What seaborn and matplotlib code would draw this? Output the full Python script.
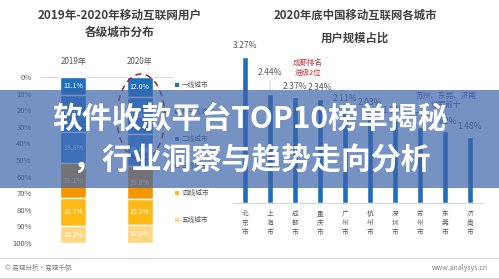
import matplotlib
matplotlib.use("Agg")
import matplotlib.pyplot as plt
import seaborn as sns
import pandas as pd
import numpy as np
from matplotlib.patches import Rectangle, Ellipse
from matplotlib.lines import Line2D

# ---------------- data ----------------
years = ["2019年", "2020年"]
tiers = ["一线城市", "新一线城市", "二线城市", "三线城市", "四线城市", "五线城市"]
share_2019 = [11.1, 22.1, 18.8, 21.1, 16.7, 10.2]
share_2020 = [12.0, 22.4, 19.4, 19.8, 15.5, 10.9]
tier_colors = ["#1F6FBF", "#2D7DCB", "#3F8AD6", "#F59600", "#FFB914", "#FFD782"]
pct_ticks = [0, 10, 20, 30, 40, 50, 60, 70, 80, 90, 100]

cities = ["北京市", "上海市", "成都市", "重庆市", "广州市", "杭州市", "深圳市", "苏州市", "东莞市", "济南市"]
city_share = [3.27, 2.44, 2.37, 2.34, 2.11, 2.03, 1.84, 1.71, 1.62, 1.48]

title_left = "2019年-2020年移动互联网用户\n各级城市分布"
title_right_1 = "2020年底中国移动互联网各城市"
title_right_2 = "用户规模占比"
note_chengdu = "成都排名\n进级2位"
note_new = "苏州、东莞、济南\n进军前十"
banner_1 = "软件收款平台TOP10榜单揭秘"
banner_2 = "，行业洞察与趋势走向分析"
footer_left = "© 易观分析·易观千帆"
footer_right = "www.analysys.cn"

# ---------------- setup ----------------
sns.set_theme(style="white")
plt.rcParams['font.family'] = ['Noto Sans CJK SC', 'DejaVu Sans']

W, H = 499, 279
fig = plt.figure(figsize=(W / 100, H / 100), dpi=100)
fig.patch.set_facecolor("white")
GRAY = "#595959"


def fx(x):
    return x / W


def fy(y):
    return 1 - y / H


# ---------------- left: stacked 100% bars ----------------
axL = fig.add_axes([fx(40), fy(243), fx(173) - fx(40), fy(77) - fy(243)])
bottoms = np.zeros(len(years))
for i, tier in enumerate(tiers):
    vals = np.array([share_2019[i], share_2020[i]])
    df = pd.DataFrame({"year": years, "share": vals})
    sns.barplot(data=df, x="year", y="share", order=years, bottom=bottoms.copy(),
                color=tier_colors[i], saturation=1, width=0.39, ax=axL, zorder=2)
    for j, v in enumerate(vals):
        axL.text(j, bottoms[j] + v / 2, f"{v:.1f}%", ha="center", va="center",
                 color="white", fontsize=5, zorder=3)
    bottoms += vals

axL.set_xlim(-0.5, 1.5)
axL.set_ylim(100, 0)
axL.set_yticks(pct_ticks)
axL.set_yticklabels([f"{t}%" for t in pct_ticks])
axL.xaxis.tick_top()
axL.tick_params(axis="x", length=0, pad=8, labelsize=5.8, labelcolor=GRAY)
axL.tick_params(axis="y", length=0, pad=6, labelsize=5.5, labelcolor=GRAY)
axL.set_xlabel("")
axL.set_ylabel("")
for s in axL.spines.values():
    s.set_visible(False)
axL.axhline(0, color="#D9D9D9", lw=0.8, zorder=1)
axL.set_facecolor("none")

# legend (manual)
for i, tier in enumerate(tiers):
    yy = 85 + 27 * i
    fig.add_artist(Rectangle((fx(175), fy(yy + 2)), 4 / W, 4 / H,
                             transform=fig.transFigure, color=tier_colors[i], lw=0))
    fig.text(fx(182), fy(yy), tier, fontsize=4.8, color=GRAY, va="center", ha="left")

# dashed ellipse around 2020 bar
fig.add_artist(Ellipse((fx(141), fy(117)), 48 / W, 86 / H, transform=fig.transFigure,
                       fill=False, ls=(0, (4, 3)), lw=1.1, ec="#A8232E"))

fig.text(fx(120), fy(24), title_left, ha="center", va="center", fontsize=8.4,
         color="#404040", linespacing=1.35, fontweight="bold")

# ---------------- right: city bars ----------------
axR = fig.add_axes([fx(232.5), fy(203), fx(482.5) - fx(232.5), fy(42.4) - fy(203)])
dfc = pd.DataFrame({"city": ["\n".join(c) for c in cities], "share": city_share})
sns.barplot(data=dfc, x="city", y="share", color="#1E6EBE", saturation=1,
            width=0.24, ax=axR, zorder=2)
axR.set_xlim(-0.5, 9.5)
axR.set_ylim(0, 3.6)
axR.set_yticks([])
axR.set_xlabel("")
axR.set_ylabel("")
axR.tick_params(axis="x", length=0, pad=5, labelsize=4.8, labelcolor=GRAY)
for lab in axR.get_xticklabels():
    lab.set_linespacing(1.15)
for s in ["left", "right", "top"]:
    axR.spines[s].set_visible(False)
axR.spines["bottom"].set_color("#D9D9D9")
axR.spines["bottom"].set_linewidth(0.8)
axR.set_facecolor("none")

offsets = [8.6, 15.5, 8.0, 8.0, 7.5, 7.5, 7.5, 7.5, 6.8, 7.2]
for i, v in enumerate(city_share):
    axR.annotate(f"{v:.2f}%", (i, v), xytext=(0, offsets[i]), textcoords="offset points",
                 ha="center", va="center", fontsize=6.2, color=GRAY, zorder=3)
axR.annotate("", (1, city_share[1]), xytext=(1, city_share[1] + 0.38),
             arrowprops=dict(arrowstyle="-", color="#BFBFBF", lw=0.5))

fig.text(fx(355), fy(15), title_right_1, ha="center", va="center", fontsize=8.2,
         color="#404040", fontweight="bold")
fig.text(fx(355), fy(38), title_right_2, ha="center", va="center", fontsize=8.2,
         color="#404040", fontweight="bold")
fig.text(fx(308), fy(68), note_chengdu, ha="center", va="center", fontsize=5.4,
         color="#C0303A", linespacing=1.3)
fig.text(fx(446), fy(100), note_new, ha="center", va="center", fontsize=5.5,
         color="#6A3FA0", linespacing=1.2)

# ---------------- footer ----------------
fig.add_artist(Line2D([0, 1], [fy(257.5), fy(257.5)], transform=fig.transFigure,
                      color="#D0D0D0", lw=0.8))
fig.add_artist(Line2D([0, 1], [fy(278), fy(278)], transform=fig.transFigure,
                      color="#D0D0D0", lw=0.8))
fig.text(fx(5), fy(268), footer_left, ha="left", va="center", fontsize=4.8, color="#7F7F7F")
fig.text(fx(488), fy(268), footer_right, ha="right", va="center", fontsize=5, color="#7F7F7F")

# ---------------- banner overlay ----------------
fig.add_artist(Rectangle((0, fy(188)), 1, 98 / H, transform=fig.transFigure,
                         color=(60 / 255, 100 / 255, 170 / 255), alpha=0.7, lw=0, zorder=10))
fig.text(fx(250), fy(120), banner_1, ha="center", va="center", fontsize=21.5,
         color="white", fontweight="bold", zorder=11)
fig.text(fx(251), fy(160), banner_2, ha="center", va="center", fontsize=21.5,
         color="white", fontweight="bold", zorder=11)

fig.savefig("out.png", dpi=100)
